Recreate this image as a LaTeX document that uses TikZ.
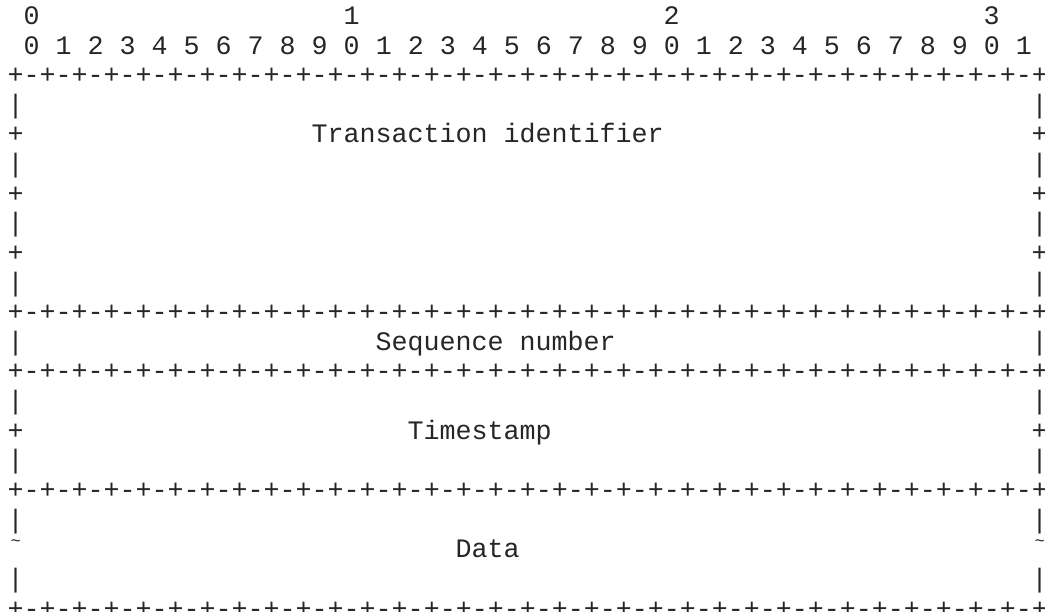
\documentclass[tikz,border=0pt]{standalone}
\usepackage{fontspec}
\newfontfamily\monofnt[Ligatures=NoCommon]{Liberation Mono}
\tikzset{
  cell/.style={anchor=base west, inner sep=0pt, outer sep=0pt, font=\monofnt\fontsize{26.67}{29.63}\selectfont, text=black!85}
}
% place text: name, column, line, text
\newcommand\putcell[4]{\node[cell] (#1) at ({7.7+16*#2},{24.4+(#3-1)*29.63}) {#4};}
\newcommand\bordertext{+-+-+-+-+-+-+-+-+-+-+-+-+-+-+-+-+-+-+-+-+-+-+-+-+-+-+-+-+-+-+-+-+}
\newcommand\smalltilde{\makebox[16pt][c]{\raisebox{11pt}{\fontsize{17}{17}\selectfont\char"007E}}}
\begin{document}
\begin{tikzpicture}[x=1pt,y=-1pt]
\fill[white] (0,0) rectangle (1045,612);
\useasboundingbox (0,0) rectangle (1045,612);
% header
\putcell{h0}{1}{1}{0}
\putcell{h1}{21}{1}{1}
\putcell{h2}{41}{1}{2}
\putcell{h3}{61}{1}{3}
\putcell{bits}{1}{2}{0 1 2 3 4 5 6 7 8 9 0 1 2 3 4 5 6 7 8 9 0 1 2 3 4 5 6 7 8 9 0 1}
% borders
\putcell{b1}{0}{3}{\bordertext}
\putcell{b2}{0}{11}{\bordertext}
\putcell{b3}{0}{13}{\bordertext}
\putcell{b4}{0}{17}{\bordertext}
\putcell{b5}{0}{21}{\bordertext}
% transaction identifier block
\putcell{l4a}{0}{4}{|}   \putcell{l4b}{64}{4}{|}
\putcell{l5a}{0}{5}{+}   \putcell{l5b}{64}{5}{+}
\putcell{l6a}{0}{6}{|}   \putcell{l6b}{64}{6}{|}
\putcell{l7a}{0}{7}{+}   \putcell{l7b}{64}{7}{+}
\putcell{l8a}{0}{8}{|}   \putcell{l8b}{64}{8}{|}
\putcell{l9a}{0}{9}{+}   \putcell{l9b}{64}{9}{+}
\putcell{l10a}{0}{10}{|} \putcell{l10b}{64}{10}{|}
\putcell{tid}{19}{5}{Transaction identifier}
% sequence number
\putcell{l12a}{0}{12}{|} \putcell{l12b}{64}{12}{|}
\putcell{seq}{23}{12}{Sequence number}
% timestamp
\putcell{l14a}{0}{14}{|} \putcell{l14b}{64}{14}{|}
\putcell{l15a}{0}{15}{+} \putcell{l15b}{64}{15}{+}
\putcell{l16a}{0}{16}{|} \putcell{l16b}{64}{16}{|}
\putcell{ts}{25}{15}{Timestamp}
% data
\putcell{l18a}{0}{18}{|} \putcell{l18b}{64}{18}{|}
\putcell{l19a}{0}{19}{\smalltilde} \putcell{l19b}{64}{19}{\smalltilde}
\putcell{l20a}{0}{20}{|} \putcell{l20b}{64}{20}{|}
\putcell{data}{28}{19}{Data}
\end{tikzpicture}
\end{document}
